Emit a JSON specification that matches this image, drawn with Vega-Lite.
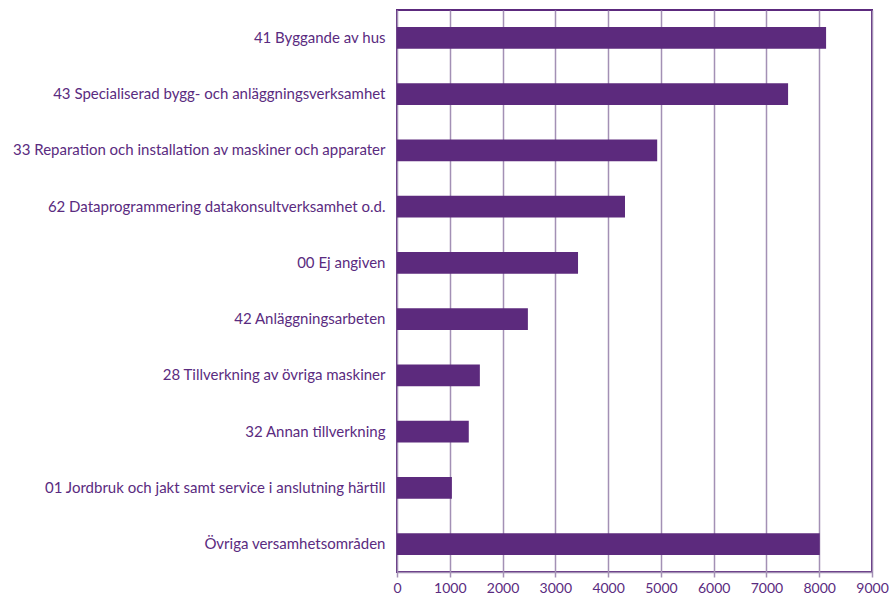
{
  "$schema": "https://vega.github.io/schema/vega-lite/v6.json",
  "autosize": "none",
  "padding": {"left": 397, "top": 10, "right": 17, "bottom": 29},
  "width": 475,
  "height": 562,
  "background": "white",
  "data": {"values": [
    {"omrade": "41 Byggande av hus", "antal": 8130},
    {"omrade": "43 Specialiserad bygg- och anläggningsverksamhet", "antal": 7410},
    {"omrade": "33 Reparation och installation av maskiner och apparater", "antal": 4930},
    {"omrade": "62 Dataprogrammering datakonsultverksamhet o.d.", "antal": 4320},
    {"omrade": "00 Ej angiven", "antal": 3430},
    {"omrade": "42 Anläggningsarbeten", "antal": 2480},
    {"omrade": "28 Tillverkning av övriga maskiner", "antal": 1570},
    {"omrade": "32 Annan tillverkning", "antal": 1360},
    {"omrade": "01 Jordbruk och jakt samt service i anslutning härtill", "antal": 1040},
    {"omrade": "Övriga versamhetsområden", "antal": 8010}
  ]},
  "mark": {"type": "bar", "color": "#5C2A7D"},
  "encoding": {
    "y": {"field": "omrade", "type": "nominal", "sort": null,
      "scale": {"paddingInner": 0.61, "paddingOuter": 0.3},
      "axis": {"title": null, "ticks": false, "domain": false, "labelPadding": 12,
        "labelFont": "Lato", "labelFontSize": 15, "labelColor": "#5A2B80", "labelLimit": 400}},
    "x": {"field": "antal", "type": "quantitative",
      "scale": {"domain": [0, 9000], "nice": false},
      "axis": {"title": null, "values": [0,1000,2000,3000,4000,5000,6000,7000,8000,9000],
        "format": "d", "labelFont": "Lato", "labelFontSize": 14, "labelColor": "#5A2B80",
        "gridColor": "#A390B5", "gridWidth": 1.5, "gridOpacity": 1,
        "domainColor": "#A390B5", "domainWidth": 1.5, "tickColor": "#A390B5", "tickWidth": 1.5, "tickSize": 5,
        "labelPadding": 4, "labelFlush": false}}
  },
  "config": {"view": {"stroke": "#5C2A7D", "strokeWidth": 2}}
}
